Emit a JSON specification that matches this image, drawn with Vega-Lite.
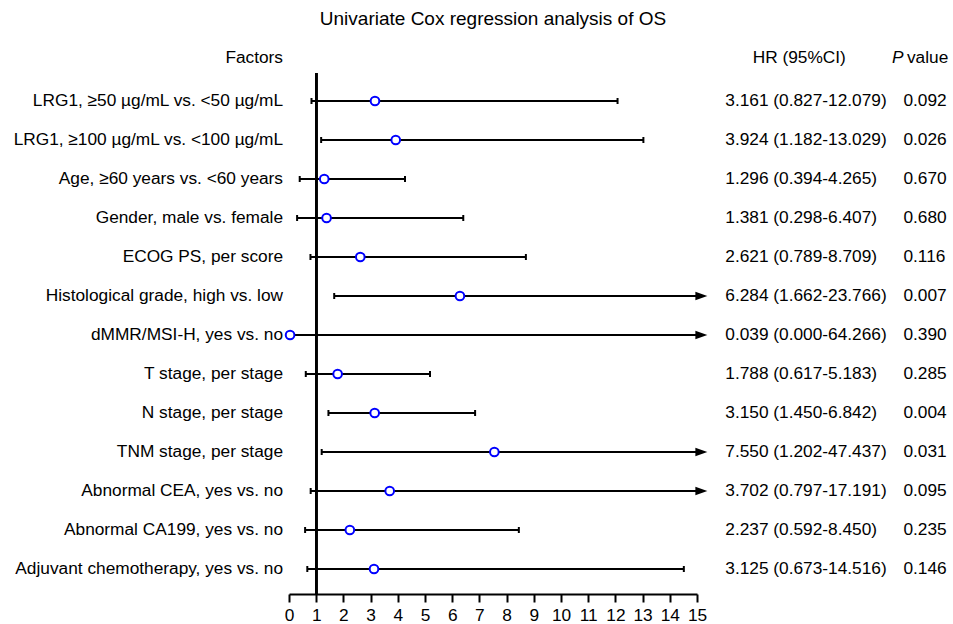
{
  "$schema": "https://vega.github.io/schema/vega-lite/v6.json",
  "autosize": {"type": "none"},
  "width": 408,
  "height": 521,
  "padding": {"left": 289, "top": 73, "right": 256, "bottom": 30},
  "background": "white",
  "title": {"text": "Univariate Cox regression analysis of OS", "font": "Liberation Sans", "fontSize": 19, "fontWeight": "normal", "color": "black", "anchor": "middle", "frame": "group", "offset": 20},
  "config": {
    "view": {"stroke": null},
    "text": {"font": "Liberation Sans", "fontSize": 17.3, "color": "black", "baseline": "middle"},
    "axisX": {"labelOverlap": false, "title": null, "grid": false,
              "domainColor": "black", "domainWidth": 2, "tickColor": "black", "tickWidth": 2, "tickSize": 8,
              "labelFont": "Liberation Sans", "labelFontSize": 17.3, "labelColor": "black", "labelPadding": 4, "labelFlush": false}
  },
  "datasets": {
    "rows": [
      {"row": 0, "factor": "LRG1, ≥50 µg/mL vs. <50 µg/mL", "hr": 3.161, "lo": 0.827, "hi": 12.079, "ci": "3.161 (0.827-12.079)", "p": "0.092"},
      {"row": 1, "factor": "LRG1, ≥100 µg/mL vs. <100 µg/mL", "hr": 3.924, "lo": 1.182, "hi": 13.029, "ci": "3.924 (1.182-13.029)", "p": "0.026"},
      {"row": 2, "factor": "Age, ≥60 years vs. <60 years", "hr": 1.296, "lo": 0.394, "hi": 4.265, "ci": "1.296 (0.394-4.265)", "p": "0.670"},
      {"row": 3, "factor": "Gender, male vs. female", "hr": 1.381, "lo": 0.298, "hi": 6.407, "ci": "1.381 (0.298-6.407)", "p": "0.680"},
      {"row": 4, "factor": "ECOG PS, per score", "hr": 2.621, "lo": 0.789, "hi": 8.709, "ci": "2.621 (0.789-8.709)", "p": "0.116"},
      {"row": 5, "factor": "Histological grade, high vs. low", "hr": 6.284, "lo": 1.662, "hi": 23.766, "ci": "6.284 (1.662-23.766)", "p": "0.007"},
      {"row": 6, "factor": "dMMR/MSI-H, yes vs. no", "hr": 0.039, "lo": 0.0, "hi": 64.266, "ci": "0.039 (0.000-64.266)", "p": "0.390"},
      {"row": 7, "factor": "T stage, per stage", "hr": 1.788, "lo": 0.617, "hi": 5.183, "ci": "1.788 (0.617-5.183)", "p": "0.285"},
      {"row": 8, "factor": "N stage, per stage", "hr": 3.150, "lo": 1.450, "hi": 6.842, "ci": "3.150 (1.450-6.842)", "p": "0.004"},
      {"row": 9, "factor": "TNM stage, per stage", "hr": 7.550, "lo": 1.202, "hi": 47.437, "ci": "7.550 (1.202-47.437)", "p": "0.031"},
      {"row": 10, "factor": "Abnormal CEA, yes vs. no", "hr": 3.702, "lo": 0.797, "hi": 17.191, "ci": "3.702 (0.797-17.191)", "p": "0.095"},
      {"row": 11, "factor": "Abnormal CA199, yes vs. no", "hr": 2.237, "lo": 0.592, "hi": 8.450, "ci": "2.237 (0.592-8.450)", "p": "0.235"},
      {"row": 12, "factor": "Adjuvant chemotherapy, yes vs. no", "hr": 3.125, "lo": 0.673, "hi": 14.516, "ci": "3.125 (0.673-14.516)", "p": "0.146"}
    ],
    "headers": [
      {"row": -1.1, "x": -0.22, "label": "Factors", "align": "right", "style": "normal"},
      {"row": -1.1, "x": 18.76, "label": "HR (95%CI)", "align": "center", "style": "normal"},
      {"row": -1.1, "x": 22.59, "label": "P", "align": "right", "style": "italic"},
      {"row": -1.1, "x": 22.72, "label": "value", "align": "left", "style": "normal"}
    ]
  },
  "data": {"name": "rows"},
  "layer": [
    {
      "mark": {"type": "rule", "color": "black", "strokeWidth": 2, "clip": true},
      "encoding": {
        "x": {"field": "lo", "type": "quantitative", "scale": {"domain": [0, 15], "nice": false, "zero": false},
              "axis": {"values": [0,1,2,3,4,5,6,7,8,9,10,11,12,13,14,15]}},
        "x2": {"field": "hi"},
        "y": {"field": "row", "type": "quantitative", "scale": {"domain": [-0.718, 12.641], "reverse": true, "nice": false, "zero": false}, "axis": null}
      }
    },
    {
      "mark": {"type": "rule", "color": "black", "strokeWidth": 2},
      "encoding": {
        "x": {"datum": 1, "type": "quantitative", "axis": {"values": [0,1,2,3,4,5,6,7,8,9,10,11,12,13,14,15]}}
      }
    },
    {
      "mark": {"type": "point", "shape": "M0,-1L0,1", "filled": false, "color": "black", "strokeWidth": 2, "size": 36, "opacity": 1, "clip": true},
      "encoding": {
        "x": {"field": "lo", "type": "quantitative", "axis": {"values": [0,1,2,3,4,5,6,7,8,9,10,11,12,13,14,15]}},
        "y": {"field": "row", "type": "quantitative", "axis": null}
      }
    },
    {
      "mark": {"type": "point", "shape": "M0,-1L0,1", "filled": false, "color": "black", "strokeWidth": 2, "size": 36, "opacity": 1, "clip": true},
      "encoding": {
        "x": {"field": "hi", "type": "quantitative", "axis": {"values": [0,1,2,3,4,5,6,7,8,9,10,11,12,13,14,15]}},
        "y": {"field": "row", "type": "quantitative", "axis": null}
      }
    },
    {
      "transform": [{"filter": "datum.hi > 15"}],
      "mark": {"type": "point", "shape": "M-1,-0.7L1,0L-1,0.7Z", "filled": true, "color": "black", "size": 144, "opacity": 1},
      "encoding": {
        "x": {"datum": 15.16, "type": "quantitative", "axis": {"values": [0,1,2,3,4,5,6,7,8,9,10,11,12,13,14,15]}},
        "y": {"field": "row", "type": "quantitative", "axis": null}
      }
    },
    {
      "mark": {"type": "point", "shape": "circle", "filled": false, "fill": "white", "fillOpacity": 1, "stroke": "#0000ff", "strokeWidth": 2, "size": 75, "opacity": 1},
      "encoding": {
        "x": {"field": "hr", "type": "quantitative", "axis": {"values": [0,1,2,3,4,5,6,7,8,9,10,11,12,13,14,15]}},
        "y": {"field": "row", "type": "quantitative", "axis": null}
      }
    },
    {
      "mark": {"type": "text", "align": "right"},
      "encoding": {
        "x": {"datum": -0.22, "type": "quantitative", "axis": {"values": [0,1,2,3,4,5,6,7,8,9,10,11,12,13,14,15]}},
        "y": {"field": "row", "type": "quantitative", "axis": null},
        "text": {"field": "factor"}
      }
    },
    {
      "mark": {"type": "text", "align": "left"},
      "encoding": {
        "x": {"datum": 16.04, "type": "quantitative", "axis": {"values": [0,1,2,3,4,5,6,7,8,9,10,11,12,13,14,15]}},
        "y": {"field": "row", "type": "quantitative", "axis": null},
        "text": {"field": "ci"}
      }
    },
    {
      "mark": {"type": "text", "align": "left"},
      "encoding": {
        "x": {"datum": 22.59, "type": "quantitative", "axis": {"values": [0,1,2,3,4,5,6,7,8,9,10,11,12,13,14,15]}},
        "y": {"field": "row", "type": "quantitative", "axis": null},
        "text": {"field": "p"}
      }
    },
    {
      "data": {"name": "headers"},
      "transform": [{"filter": "datum.align == 'right' && datum.style == 'normal'"}],
      "mark": {"type": "text", "align": "right"},
      "encoding": {
        "x": {"field": "x", "type": "quantitative", "axis": {"values": [0,1,2,3,4,5,6,7,8,9,10,11,12,13,14,15]}},
        "y": {"field": "row", "type": "quantitative", "axis": null},
        "text": {"field": "label"}
      }
    },
    {
      "data": {"name": "headers"},
      "transform": [{"filter": "datum.align == 'center'"}],
      "mark": {"type": "text", "align": "center"},
      "encoding": {
        "x": {"field": "x", "type": "quantitative", "axis": {"values": [0,1,2,3,4,5,6,7,8,9,10,11,12,13,14,15]}},
        "y": {"field": "row", "type": "quantitative", "axis": null},
        "text": {"field": "label"}
      }
    },
    {
      "data": {"name": "headers"},
      "transform": [{"filter": "datum.style == 'italic'"}],
      "mark": {"type": "text", "align": "right", "fontStyle": "italic"},
      "encoding": {
        "x": {"field": "x", "type": "quantitative", "axis": {"values": [0,1,2,3,4,5,6,7,8,9,10,11,12,13,14,15]}},
        "y": {"field": "row", "type": "quantitative", "axis": null},
        "text": {"field": "label"}
      }
    },
    {
      "data": {"name": "headers"},
      "transform": [{"filter": "datum.align == 'left'"}],
      "mark": {"type": "text", "align": "left"},
      "encoding": {
        "x": {"field": "x", "type": "quantitative", "axis": {"values": [0,1,2,3,4,5,6,7,8,9,10,11,12,13,14,15]}},
        "y": {"field": "row", "type": "quantitative", "axis": null},
        "text": {"field": "label"}
      }
    }
  ]
}
